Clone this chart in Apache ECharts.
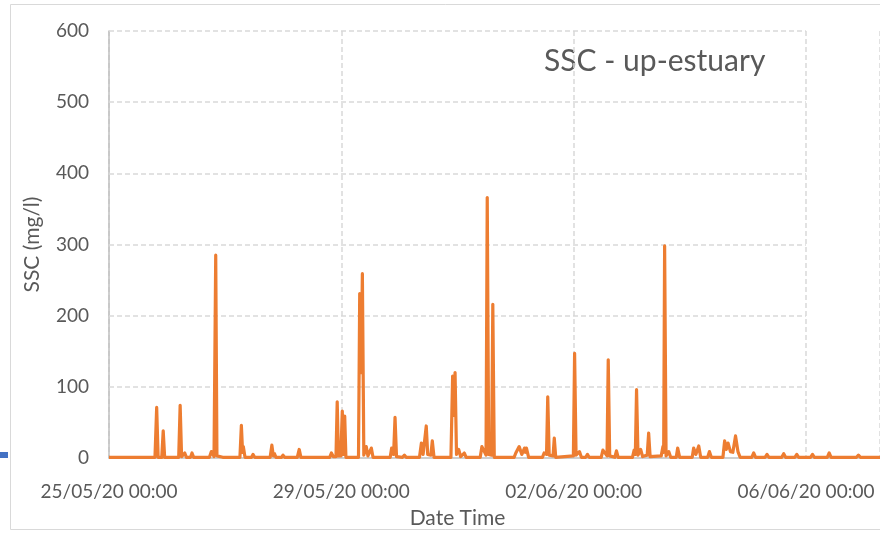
<!DOCTYPE html>
<html>
<head>
<meta charset="utf-8">
<title>SSC - up-estuary</title>
<script src="https://cdn.jsdelivr.net/npm/echarts@6/dist/echarts.min.js"></script>
<style>
  html, body { margin: 0; padding: 0; background: #fff; }
  #chart { width: 880px; height: 533px; }
</style>
</head>
<body>
<div id="chart"></div>
<script>
// hours since 25/05/20 00:00
const hours = [
  0,
  19.0, 19.7, 20.3, 21.8, 22.4, 23.0,
  28.8, 29.4, 30.0, 31.3, 32.0, 33.7, 34.3, 35.0,
  41.5, 42.3, 43.4, 44.1, 44.6, 45.2, 47.0, 47.6, 48.3,
  54.1, 54.7, 55.2, 55.5, 56.2, 58.9, 59.5, 60.2,
  66.6, 67.3, 67.9, 68.4, 69.0, 71.3, 71.9, 72.6,
  77.8, 78.6, 79.3, 83.5, 84.1, 84.8,
  91.2, 91.9, 92.7, 93.8, 94.3, 94.8, 95.8, 96.4, 96.9, 97.4, 97.9,
  103.1, 103.6, 104.2, 104.7, 105.3, 106.3, 107.0, 108.4, 109.1,
  116.2, 116.8, 117.6, 118.2, 118.8, 121.3, 122.1, 122.8,
  128.3, 129.1, 129.8, 130.6, 131.1, 131.7, 133.0, 133.6, 134.3,
  141.3, 142.0, 142.5, 143.0, 143.6, 144.5, 145.3, 146.8, 147.6,
  153.4, 154.1, 155.8, 156.3, 156.9, 158.1, 158.6, 159.2,
  167.4, 168.1, 168.8, 169.5, 170.6, 171.7, 172.1, 172.5, 173.4,
  179.1, 179.8, 180.8, 181.3, 181.9, 183.5, 184.0, 184.6,
  191.9, 192.4, 193.0, 194.4, 195.2, 197.0, 197.7, 198.4,
  203.4, 204.1, 205.8, 206.3, 206.9, 209.0, 209.7, 210.4,
  216.3, 217.0, 217.5, 218.0, 218.6, 219.7, 220.5, 222.4, 223.0, 223.6,
  228.2, 228.9, 229.2, 229.6, 230.2, 231.3, 232.1, 234.4, 235.0, 235.8,
  241.0, 241.6, 242.5, 243.7, 244.5, 247.4, 248.1, 248.9,
  253.7, 254.4, 255.1, 255.8, 256.8, 257.8, 258.9, 259.9, 260.8,
  265.6, 266.4, 267.2, 271.1, 271.9, 272.7, 278.0, 278.8, 279.6,
  283.4, 284.2, 285.0, 289.9, 290.7, 291.5, 296.8, 297.6, 298.4,
  302.7, 303.5, 304.3, 308.9, 309.7, 310.5, 315.1, 315.9, 316.7,
  318.6
];

// SSC (mg/l)
const ssc = [
  1,
  1, 71, 1, 1, 38, 1,
  1, 74, 2, 7, 1, 1, 7, 1,
  1, 9, 2, 285, 3, 1, 1, 3, 1,
  1, 46, 8, 16, 1, 1, 5, 1,
  1, 18, 3, 6, 1, 1, 4, 1,
  1, 12, 1, 1, 3, 1,
  1, 7, 2, 2, 79, 3, 3, 66, 5, 59, 1,
  1, 231, 120, 259, 4, 16, 3, 14, 1,
  1, 14, 5, 57, 2, 1, 4, 1,
  1, 21, 5, 5, 45, 5, 4, 24, 1,
  1, 115, 60, 120, 5, 12, 2, 7, 1,
  1, 16, 4, 366, 5, 4, 216, 1,
  1, 7, 5, 16, 5, 14, 8, 14, 1,
  1, 7, 5, 86, 4, 3, 28, 1,
  3, 147, 4, 9, 1, 1, 5, 1,
  1, 11, 3, 138, 3, 1, 10, 1,
  1, 11, 5, 96, 4, 12, 2, 4, 35, 2,
  3, 16, 8, 298, 3, 9, 1, 1, 14, 1,
  1, 14, 5, 17, 1, 1, 9, 1,
  1, 24, 12, 21, 9, 8, 31, 9, 1,
  1, 7, 1, 1, 5, 1, 1, 6, 1,
  1, 5, 1, 1, 5, 1, 1, 7, 1,
  1, 3, 1, 1, 4, 1, 1, 3, 1,
  1
];

const yTicks = [100, 200, 300, 400, 500, 600];
const lastTick = 288; // 06/06/20 00:00, where the plot's grid stops
const startTime = Date.UTC(2020, 4, 25, 0, 0);

const chart = echarts.init(document.getElementById('chart'));

function pad(n) {
  return String(n).padStart(2, '0');
}

function dateLabel(h) {
  const d = new Date(startTime + h * 3600 * 1000);
  return pad(d.getUTCDate()) + '/' + pad(d.getUTCMonth() + 1) + '/' +
    String(d.getUTCFullYear()).slice(2) + ' ' + pad(d.getUTCHours()) + ':' + pad(d.getUTCMinutes());
}

const gridLine = { color: '#D9D9D9', width: 1.5, type: [5, 3] };
const textColor = '#595959';
const font = 'Lato, "Open Sans", sans-serif';

chart.setOption({
  animation: false,
  textStyle: { fontFamily: font },
  graphic: [
    {
      type: 'rect',
      shape: { x: 10.5, y: 4.5, width: 900, height: 525 },
      style: { fill: 'none', stroke: '#D9D9D9', lineWidth: 1 },
      silent: true
    },
    {
      type: 'rect',
      shape: { x: 0, y: 452, width: 8, height: 6 },
      style: { fill: '#4472C4' },
      silent: true
    },
    {
      type: 'text',
      left: 544,
      top: 46,
      style: { text: 'SSC - up-estuary', fill: textColor, fontSize: 30, fontFamily: font }
    }
  ],
  grid: { left: 109, right: 0, top: 31, bottom: 75, containLabel: false, outerBoundsMode: 'none' },
  xAxis: {
    type: 'value',
    min: 0,
    max: 318.6,
    interval: 96,
    name: 'Date Time',
    nameLocation: 'middle',
    nameGap: 50,
    nameTextStyle: { color: textColor, fontSize: 21, padding: [0, 74, 0, 0] },
    axisLine: { show: true, onZero: false, lineStyle: { color: '#BFBFBF', width: 1.5 } },
    axisTick: { show: false },
    axisLabel: {
      color: textColor,
      fontSize: 19,
      margin: 24,
      showMaxLabel: false,
      formatter: (v) => dateLabel(v)
    },
    splitLine: { show: true, lineStyle: gridLine }
  },
  yAxis: {
    type: 'value',
    min: 0,
    max: 600,
    interval: 100,
    name: 'SSC (mg/l)',
    nameLocation: 'middle',
    nameGap: 66,
    nameTextStyle: { color: textColor, fontSize: 21 },
    axisLine: { show: true, lineStyle: { color: '#BFBFBF', width: 1.5 } },
    axisTick: { show: false },
    axisLabel: { color: textColor, fontSize: 19, margin: 20 },
    splitLine: { show: false }
  },
  series: [
    {
      // horizontal grid lines, which stop at 06/06 like the original
      name: 'grid',
      type: 'line',
      data: [],
      silent: true,
      z: 1,
      markLine: {
        silent: true,
        symbol: 'none',
        label: { show: false },
        lineStyle: gridLine,
        emphasis: { disabled: true },
        data: yTicks.map((v) => [{ coord: [0, v] }, { coord: [lastTick, v] }])
      }
    },
    {
      name: 'SSC',
      type: 'line',
      data: hours.map((h, i) => [h, ssc[i]]),
      showSymbol: false,
      z: 5,
      lineStyle: { color: '#ED7D31', width: 3.2, join: 'round' }
    }
  ]
});
</script>
</body>
</html>
